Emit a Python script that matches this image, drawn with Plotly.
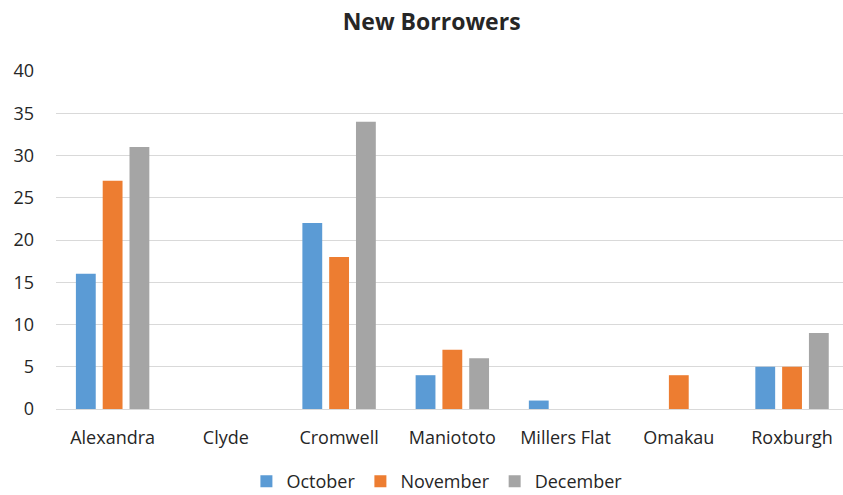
import plotly.graph_objects as go

categories = ["Alexandra", "Clyde", "Cromwell", "Maniototo", "Millers Flat", "Omakau", "Roxburgh"]
october = [16, 0, 22, 4, 1, 0, 5]
november = [27, 0, 18, 7, 0, 4, 5]
december = [31, 0, 34, 6, 0, 0, 9]
y_ticks = [0, 5, 10, 15, 20, 25, 30, 35, 40]

series = [("October", october, "#5B9BD5"),
          ("November", november, "#ED7D31"),
          ("December", december, "#A5A5A5")]

fig = go.Figure()
for name, vals, color in series:
    fig.add_trace(go.Bar(x=categories, y=vals, name=name, marker_color=color,
                         marker_line_width=0))

font_family = "Open Sans"
fig.update_layout(
    width=843, height=495,
    margin=dict(l=56, r=0, t=71, b=86, autoexpand=False),
    paper_bgcolor="white", plot_bgcolor="white",
    title=dict(text="<b>New Borrowers</b>", x=0.512, xanchor="center",
               y=0.955, yanchor="middle",
               font=dict(family=font_family, size=23, color="#262626")),
    barmode="group", bargap=0.29, bargroupgap=0.26,
    font=dict(family=font_family, size=18, color="#262626"),
    legend=dict(orientation="h", x=0.484, xanchor="center", y=-0.215, yanchor="middle",
                font=dict(size=18), itemwidth=30, traceorder="normal"),
    xaxis=dict(showgrid=False, showline=False, ticks="", ticklabelstandoff=16,
               range=[-0.5, 6.45], tickfont=dict(size=18)),
    yaxis=dict(range=[0, 40], tickvals=y_ticks, showgrid=True, gridcolor="#D9D9D9",
               gridwidth=1.3, zeroline=True, zerolinecolor="#D9D9D9", zerolinewidth=1.3,
               showline=False, ticks="", ticklabelstandoff=21, tickfont=dict(size=18)),
)

fig.write_html("out.html")
